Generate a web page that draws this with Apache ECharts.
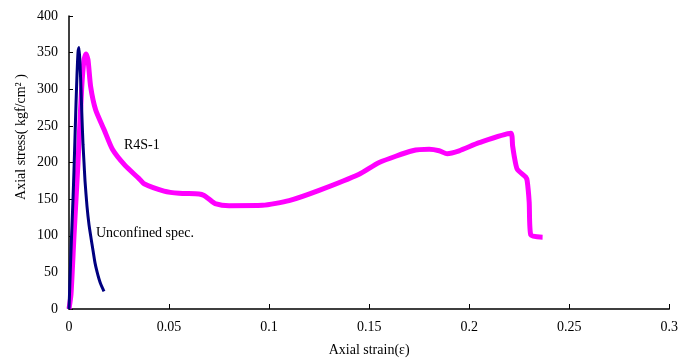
<!DOCTYPE html>
<html>
<head>
<meta charset="utf-8">
<script src="https://cdn.jsdelivr.net/npm/echarts@6/dist/echarts.min.js"></script>
<style>
    html, body { margin: 0; padding: 0; background: #fff; }
    #chart { width: 681px; height: 362px; }
</style>
</head>
<body>
<div id="chart"></div>
<script>
// unconfined specimen: [strain, stress]
var unconfinedStrain = [0, 0.0005, 0.001, 0.0015, 0.002, 0.0025, 0.003, 0.0035, 0.004, 0.0045, 0.005,
    0.0055, 0.006, 0.0065, 0.007, 0.0075, 0.008, 0.009, 0.010, 0.011, 0.012, 0.013, 0.014, 0.015, 0.016, 0.017, 0.0175];
var unconfinedStress = [0, 40, 80, 115, 150, 190, 235, 280, 320, 350, 357,
    335, 300, 260, 225, 200, 175, 140, 115, 97, 80, 63, 51, 41, 33, 27, 24];

// R4S-1 specimen
var r4sStrain = [0, 0.001, 0.0025, 0.0045, 0.0063, 0.0075, 0.0085, 0.0095, 0.0108, 0.0133, 0.0175, 0.0217, 0.028,
    0.035, 0.0375, 0.0475, 0.055, 0.065, 0.0675, 0.07, 0.073, 0.08, 0.0967, 0.11, 0.125, 0.145, 0.155, 0.1717,
    0.18, 0.185, 0.189, 0.195, 0.205, 0.2208, 0.2217, 0.2225, 0.224, 0.2283, 0.229, 0.23, 0.2308, 0.2367];
var r4sStress = [0, 20, 100, 200, 300, 340, 348, 340, 304, 272, 245, 218, 196,
    178, 171, 161, 158, 157, 155, 150, 144, 141, 141.5, 148, 162, 184, 200, 216,
    218, 216, 212, 216, 227, 240, 223, 209, 191, 180, 175, 146, 101, 98];

var yTicks = [0, 50, 100, 150, 200, 250, 300, 350, 400];
var xTicks = [0, 0.05, 0.1, 0.15, 0.2, 0.25, 0.3];

function pairs(xs, ys) {
    var out = [];
    for (var i = 0; i < xs.length; i++) {
        out.push([xs[i], ys[i]]);
    }
    return out;
}

var chart = echarts.init(document.getElementById('chart'));
var font = '"Liberation Serif", "Times New Roman", serif';

var option = {
    animation: false,
    textStyle: { fontFamily: font },
    grid: { left: 69, right: 11, top: 16, bottom: 51 },
    xAxis: {
        type: 'value',
        min: 0,
        max: 0.3,
        interval: 0.05,
        name: 'Axial strain(ε)',
        nameLocation: 'middle',
        nameGap: 34,
        nameTextStyle: { fontFamily: font, fontSize: 14, color: '#000' },
        axisLine: { lineStyle: { color: '#000', width: 1.5 } },
        axisTick: { inside: true, length: 5, lineStyle: { color: '#000' } },
        axisLabel: { fontFamily: font, fontSize: 14, color: '#000', margin: 11 },
        splitLine: { show: false }
    },
    yAxis: {
        type: 'value',
        min: 0,
        max: 400,
        interval: 50,
        axisLine: { show: true, lineStyle: { color: '#000', width: 1.5 } },
        axisTick: { show: true, inside: true, length: 4, lineStyle: { color: '#000' } },
        axisLabel: { fontFamily: font, fontSize: 14, color: '#000', margin: 11 },
        splitLine: { show: false }
    },
    series: [
        {
            name: 'R4S-1',
            type: 'line',
            showSymbol: false,
            smooth: 0.2,
            lineStyle: { color: '#ff00ff', width: 5 },
            data: pairs(r4sStrain, r4sStress),
            z: 2
        },
        {
            name: 'Unconfined spec.',
            type: 'line',
            showSymbol: false,
            smooth: 0.2,
            lineStyle: { color: '#000080', width: 3 },
            data: pairs(unconfinedStrain, unconfinedStress),
            z: 3
        }
    ],
    graphic: [
        {
            type: 'text', x: 21, y: 137, rotation: Math.PI / 2,
            style: {
                text: 'Axial stress( kgf/cm\u00B2 )', fontFamily: font, fontSize: 14, fill: '#000',
                align: 'center', verticalAlign: 'middle'
            }
        },
        {
            type: 'text', left: 124, top: 138,
            style: { text: 'R4S-1', fontFamily: font, fontSize: 14, fill: '#000' }
        },
        {
            type: 'text', left: 96, top: 226,
            style: { text: 'Unconfined spec.', fontFamily: font, fontSize: 14, fill: '#000' }
        }
    ]
};

chart.setOption(option);
window.addEventListener('resize', function () {
    chart.resize();
});
</script>
</body>
</html>
